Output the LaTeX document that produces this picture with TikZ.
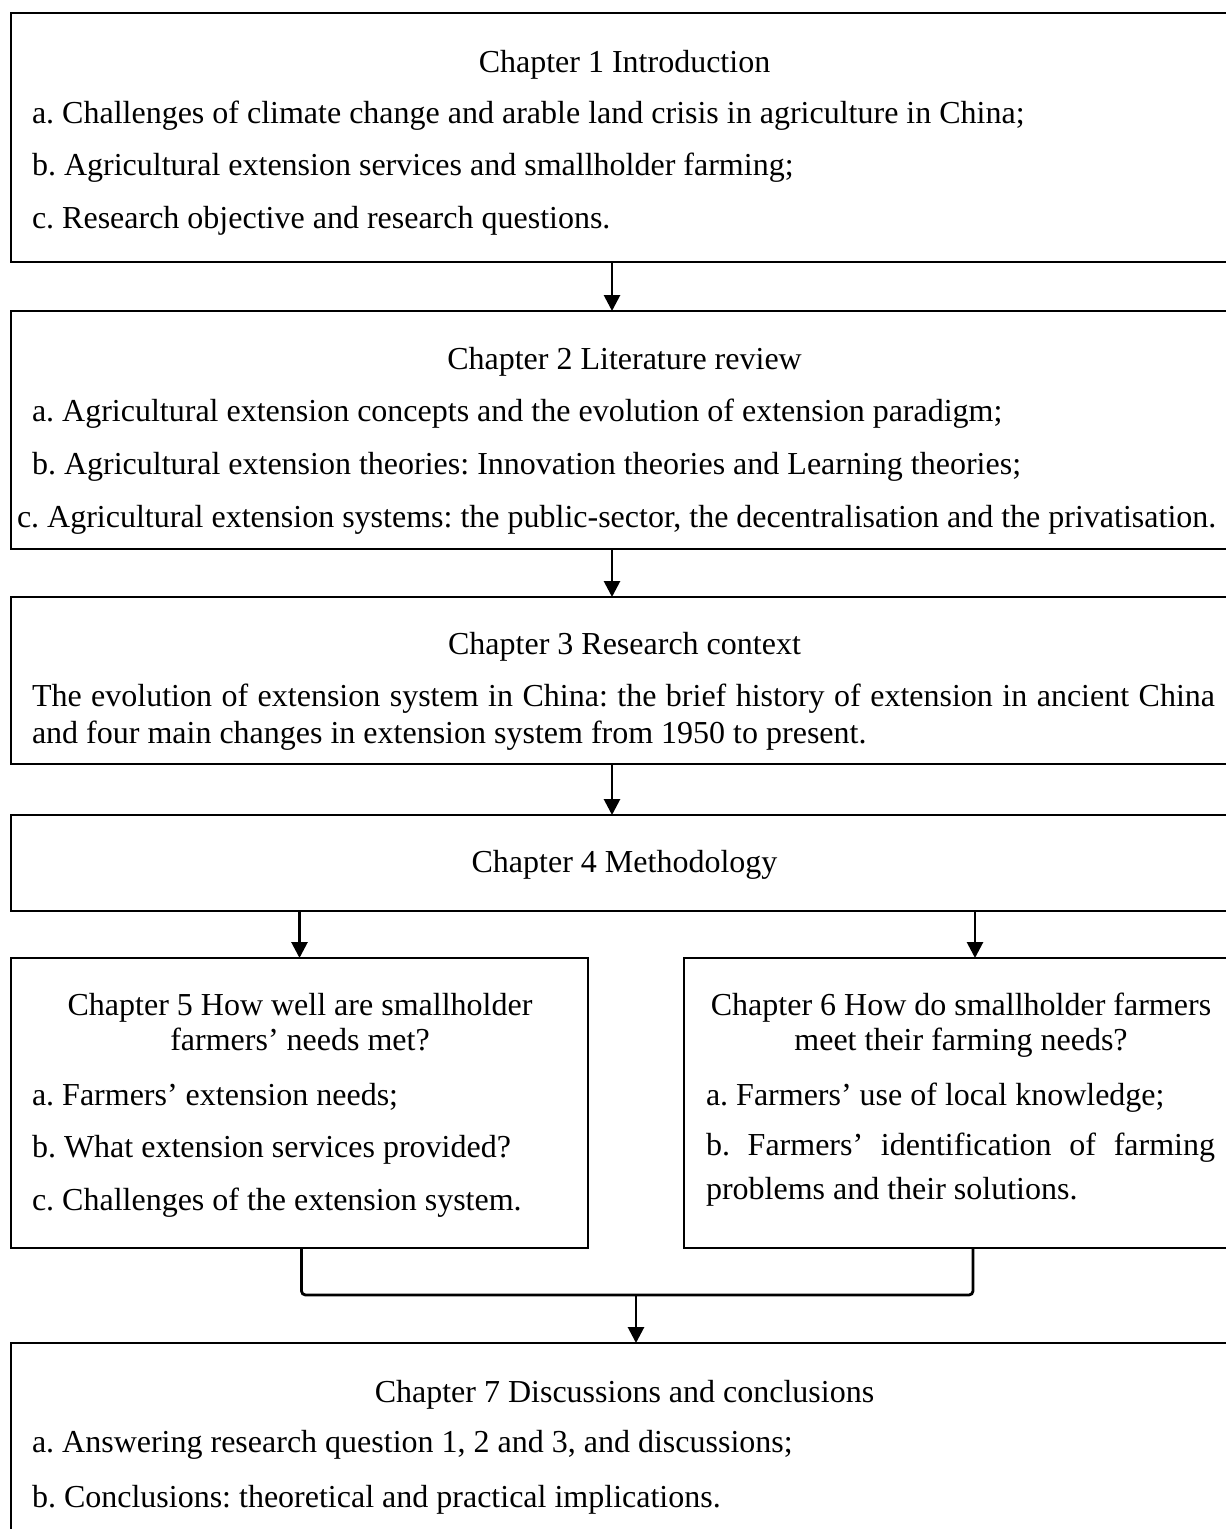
\documentclass[tikz,border=0pt]{standalone}
\usepackage{fontspec}
\setmainfont{Liberation Serif}
\usetikzlibrary{arrows.meta}
\frenchspacing
\begin{document}
\begin{tikzpicture}[x=1pt,y=-1pt,
  box/.style={draw=black,line width=2.8pt,inner sep=0pt,outer sep=0pt,anchor=north west},
  txt/.style={anchor=base west,inner sep=0pt,outer sep=0pt,font=\fontsize{32}{37}\selectfont},
  ttl/.style={anchor=base,inner sep=0pt,outer sep=0pt,font=\fontsize{32}{37}\selectfont},
  conn/.style={draw=black,line width=2.8pt},
  arr/.style={conn,-{Triangle[length=16pt,width=16pt]}}]
\clip (0,0) rectangle (1226,1529);
\fill[white] (0,0) rectangle (1226,1529);

% chapter boxes
\node[box,minimum width=1227pt,minimum height=249pt] (b1) at (11,13) {};
\node[box,minimum width=1227pt,minimum height=238pt] (b2) at (11,311) {};
\node[box,minimum width=1227pt,minimum height=167pt] (b3) at (11,597) {};
\node[box,minimum width=1227pt,minimum height=96pt]  (b4) at (11,815) {};
\node[box,minimum width=577pt,minimum height=290pt]  (b5) at (11,958) {};
\node[box,minimum width=554pt,minimum height=290pt]  (b6) at (684,958) {};
\node[box,minimum width=1227pt,minimum height=260pt] (b7) at (11,1343) {};

% chapter 1
\node[ttl] (t1) at (624.5,72) {Chapter 1 Introduction};
\node[txt] (t1a) at (32,123) {a. Challenges of climate change and arable land crisis in agriculture in China;};
\node[txt] (t1b) at (32,175) {b. Agricultural extension services and smallholder farming;};
\node[txt] (t1c) at (32,228) {c. Research objective and research questions.};

% chapter 2
\node[ttl] (t2) at (624.5,369) {Chapter 2 Literature review};
\node[txt] (t2a) at (32,421) {a. Agricultural extension concepts and the evolution of extension paradigm;};
\node[txt] (t2b) at (32,474) {b. Agricultural extension theories: Innovation theories and Learning theories;};
\node[txt] (t2c) at (17,527) {c. Agricultural extension systems: the public-sector, the decentralisation and the privatisation.};

% chapter 3
\node[ttl] (t3) at (624.5,654) {Chapter 3 Research context};
\node[txt] (t3a) at (32,706) {\makebox[1183pt][s]{The evolution of extension system in China: the brief history of extension in ancient China}};
\node[txt] (t3b) at (32,743) {and four main changes in extension system from 1950 to present.};

% chapter 4
\node[ttl] (t4) at (624.5,872) {Chapter 4 Methodology};

% chapter 5
\node[ttl] (t5) at (300,1015) {Chapter 5 How well are smallholder};
\node[ttl] (t5x) at (300,1050) {farmers’ needs met?};
\node[txt] (t5a) at (32,1105) {a. Farmers’ extension needs;};
\node[txt] (t5b) at (32,1157) {b. What extension services provided?};
\node[txt] (t5c) at (32,1210) {c. Challenges of the extension system.};

% chapter 6
\node[ttl] (t6) at (961,1015) {Chapter 6 How do smallholder farmers};
\node[ttl] (t6x) at (961,1050) {meet their farming needs?};
\node[txt] (t6a) at (706,1105) {a. Farmers’ use of local knowledge;};
\node[txt] (t6b) at (706,1155) {\makebox[509pt][s]{b. Farmers’ identification of farming}};
\node[txt] (t6c) at (706,1199) {problems and their solutions.};

% chapter 7
\node[ttl] (t7) at (624.5,1402) {Chapter 7 Discussions and conclusions};
\node[txt] (t7a) at (32,1452) {a. Answering research question 1, 2 and 3, and discussions;};
\node[txt] (t7b) at (32,1507) {b. Conclusions: theoretical and practical implications.};

% connectors
\draw[arr] ([xshift=-12.5pt]b1.south) -- ([xshift=-12.5pt]b2.north);
\draw[arr] ([xshift=-12.5pt]b2.south) -- ([xshift=-12.5pt]b3.north);
\draw[arr] ([xshift=-12.5pt]b3.south) -- ([xshift=-12.5pt]b4.north);
\draw[arr] (b4.south -| b5.north) -- (b5.north);
\draw[arr] ([xshift=14pt]b4.south -| b6.north) -- ([xshift=14pt]b6.north);
\coordinate (jn) at (636,1295);
\draw[conn,rounded corners=4pt] ([xshift=2pt]b5.south) |- (jn) -| ([xshift=12pt]b6.south);
\draw[arr] (jn) -- (b7.north -| jn);
\end{tikzpicture}
\end{document}
